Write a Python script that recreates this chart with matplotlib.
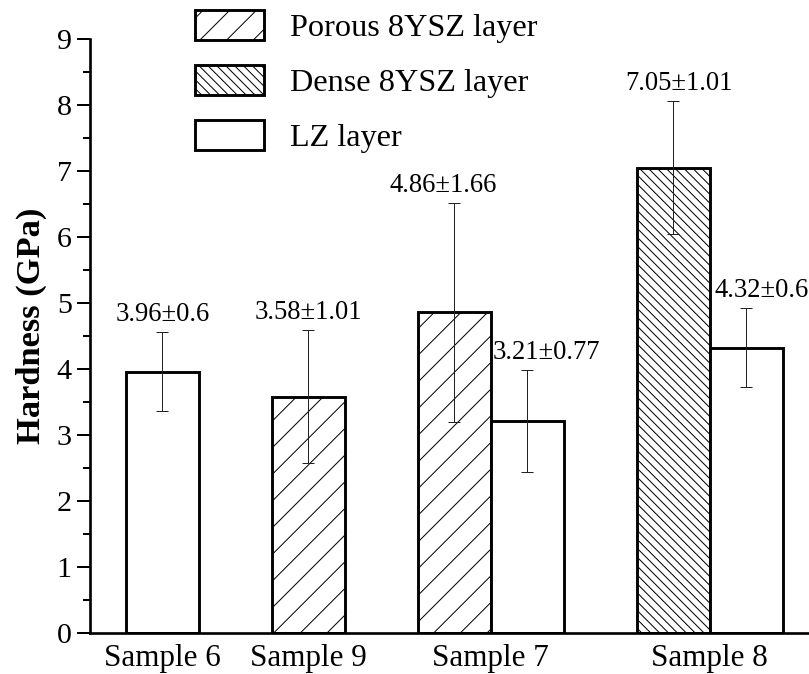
import matplotlib
matplotlib.use("Agg")
import matplotlib.pyplot as plt
from matplotlib.patches import Patch

# Hardness of each coating layer (GPa), mean and standard deviation
samples = ["Sample 6", "Sample 9", "Sample 7", "Sample 8"]
layers = ["Porous 8YSZ layer", "Dense 8YSZ layer", "LZ layer"]

bar_sample = ["Sample 6", "Sample 9", "Sample 7", "Sample 7", "Sample 8", "Sample 8"]
bar_layer = ["LZ layer", "Porous 8YSZ layer", "Porous 8YSZ layer", "LZ layer",
             "Dense 8YSZ layer", "LZ layer"]
hardness = [3.96, 3.58, 4.86, 3.21, 7.05, 4.32]
hardness_err = [0.6, 1.01, 1.66, 0.77, 1.01, 0.6]

# bar slots along the x axis (one unit = one bar width)
bar_pos = [0, 2, 4, 5, 7, 8]
# horizontal nudge of each value label, in points
label_dx = [0, 0, -10, 17, 5, 13.5]

hatches = {"Porous 8YSZ layer": "/", "Dense 8YSZ layer": "\\\\\\", "LZ layer": ""}

DPI = 80
plt.rcParams["font.family"] = ["Liberation Serif", "DejaVu Serif"]
plt.rcParams["hatch.linewidth"] = 0.9
plt.rcParams["hatch.color"] = "black"

fig = plt.figure(figsize=(809 / DPI, 674 / DPI), dpi=DPI)
ax = fig.add_axes([90 / 809, 41 / 674, 719 / 809, 594 / 674])

edge_lw = 2.6
for x, lay, v in zip(bar_pos, bar_layer, hardness):
    ax.bar(x, v, width=1.0, facecolor="white", edgecolor="black",
           linewidth=edge_lw, hatch=hatches[lay], zorder=2)

ax.errorbar(bar_pos, hardness, yerr=hardness_err, fmt="none", ecolor="#222222",
            elinewidth=0.9, capsize=5, capthick=0.9, zorder=3)

for x, v, e, dx in zip(bar_pos, hardness, hardness_err, label_dx):
    ax.annotate(f"{v}\u00b1{e}", xy=(x, v + e), xytext=(dx, 10),
                textcoords="offset points", ha="center", va="baseline",
                fontsize=24)

# category ticks: centred under each sample's bar group
tick_pos = []
for s in samples:
    xs = [p for p, bs in zip(bar_pos, bar_sample) if bs == s]
    tick_pos.append(sum(xs) / len(xs))
ax.set_xticks(tick_pos)
ax.set_xticklabels(samples, fontsize=28)
ax.tick_params(axis="x", length=0, pad=10)

ax.set_xlim(-0.99, 8.86)
ax.set_ylim(0, 9)
ax.set_yticks(range(0, 10))
ax.set_yticks([i + 0.5 for i in range(9)], minor=True)
ax.tick_params(axis="y", which="major", direction="out", length=11.5, width=1.8,
               labelsize=27, pad=5)
ax.tick_params(axis="y", which="minor", direction="out", length=6, width=1.8)

ax.set_ylabel("Hardness (GPa)", fontsize=31, fontweight="bold")
ax.yaxis.set_label_coords(-0.06, 0.517)

for side in ("top", "right"):
    ax.spines[side].set_visible(False)
for side in ("left", "bottom"):
    ax.spines[side].set_linewidth(2.4)

handles = [Patch(facecolor="white", edgecolor="black", linewidth=edge_lw,
                 hatch=hatches[l], label=l) for l in layers]
fig.legend(handles=handles, loc="upper left",
           bbox_to_anchor=(195 / 809, 1 - 10 / 674), frameon=False,
           fontsize=29, handlelength=2.15, handleheight=1.05,
           handletextpad=0.8, labelspacing=0.68, borderpad=0, borderaxespad=0)

fig.savefig("out.png", dpi=DPI)
